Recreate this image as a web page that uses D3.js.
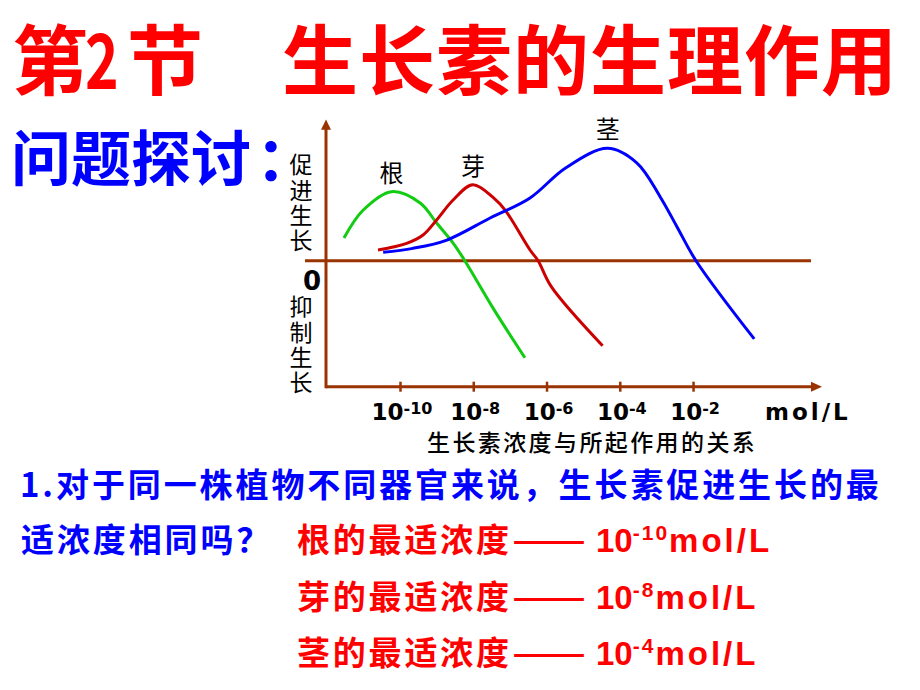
<!DOCTYPE html>
<html>
<head>
<meta charset="utf-8">
<script src="https://cdn.jsdelivr.net/npm/d3@7"></script>
<style>
  body { margin: 0; background: #fff; }
</style>
</head>
<body>
<script>
// curve data: x = log10 of auxin concentration (mol/L), y = effect (+ promote, - inhibit)
const organs = ["根", "芽", "茎"];
const rootExp = [-11.53, -11.01, -10.23, -9.45, -9.00, -8.55, -8.23, -7.43, -6.59];
const rootVal = [0.18, 0.40, 0.548, 0.458, 0.299, 0.14, 0.0, -0.39, -0.77];
const budExp = [-10.60, -9.82, -9.37, -9.00, -8.55, -8.01, -7.43, -7.13, -6.45, -6.23, -5.87, -4.47];
const budVal = [0.085, 0.138, 0.204, 0.323, 0.482, 0.603, 0.495, 0.402, 0.085, 0.0, -0.206, -0.675];
const stemExp = [-10.46, -9.65, -8.72, -7.54, -6.45, -5.48, -4.33, -3.53, -2.90, -2.44, -1.92, -0.33];
const stemVal = [0.067, 0.098, 0.164, 0.339, 0.498, 0.736, 0.892, 0.775, 0.508, 0.27, 0.0, -0.621];
const tickExp = [-10, -8, -6, -4, -2];
const optimumExp = [-10, -8, -4];

const colors = ["#11cc11", "#cc0000", "#0000ff"];
const brown = "#993300";
const cjk = "'Noto Sans CJK SC', sans-serif";
const latin = "'DejaVu Sans', sans-serif";
const arial = "'Liberation Sans', 'Noto Sans CJK SC', sans-serif";

const width = 920, height = 690;
const svg = d3.select("body").append("svg")
  .attr("width", width)
  .attr("height", height);

// ---- title ----
const title = svg.append("g").attr("fill", "#ff0000").style("font-family", cjk).style("font-weight", "bold").style("font-size", "76px");
title.append("text").attr("x", 12).attr("y", 89).text("第");
title.append("text").attr("transform", "translate(85,89) scale(0.75,1)").text("2");
title.append("text").attr("x", 127).attr("y", 89).text("节");
title.append("text").attr("x", 282).attr("y", 89).style("letter-spacing", "1px").text("生长素的生理作用");

// ---- question heading ----
const q = svg.append("text")
  .attr("x", 11).attr("y", 181)
  .attr("fill", "#0000ff")
  .style("font-family", cjk).style("font-weight", "bold").style("font-size", "60px");
q.append("tspan").text("问题探讨");
q.append("tspan").attr("x", 256).text("：");

// ---- chart ----
const x = d3.scaleLog()
  .domain([Math.pow(10, -12.02), Math.pow(10, 1.52)])
  .range([326, 822]);
const y = d3.scaleLinear()
  .domain([-1, 1])
  .range([386.7, 134.7]);

// y axis with arrow
svg.append("line")
  .attr("x1", x.range()[0]).attr("x2", x.range()[0])
  .attr("y1", y(-1)).attr("y2", y(1.04))
  .attr("stroke", brown).attr("stroke-width", 3).attr("stroke-linecap", "square");
svg.append("path")
  .attr("d", `M${x.range()[0]},${y(1.12)}L${x.range()[0] - 5},${y(1.04)}L${x.range()[0] + 5},${y(1.04)}Z`)
  .attr("fill", brown);

// zero line
svg.append("line")
  .attr("x1", x.range()[0] - 21).attr("x2", 811)
  .attr("y1", y(0)).attr("y2", y(0))
  .attr("stroke", brown).attr("stroke-width", 3);

// x axis
const xAxis = d3.axisBottom(x)
  .tickValues(tickExp.map(e => Math.pow(10, e)))
  .tickFormat("")
  .tickSizeOuter(0);
const gx = svg.append("g")
  .attr("transform", `translate(0,${y(-1)})`)
  .call(xAxis);
gx.select(".domain").attr("stroke", brown).attr("stroke-width", 3).attr("d", `M${x.range()[0]},0H${x.range()[1] - 8}`);
gx.selectAll(".tick line").attr("stroke", brown).attr("stroke-width", 2.5).attr("y1", -5).attr("y2", 5);
svg.append("path")
  .attr("d", `M${x.range()[1]},${y(-1)}L${x.range()[1] - 11},${y(-1) - 5}L${x.range()[1] - 11},${y(-1) + 5}Z`)
  .attr("fill", brown);

// tick labels 10^n
tickExp.forEach(e => {
  const t = svg.append("text")
    .attr("x", x(Math.pow(10, e)) + 2)
    .attr("y", 420)
    .attr("text-anchor", "middle")
    .style("font-family", latin).style("font-weight", "bold").style("font-size", "23px");
  t.append("tspan").text("10");
  t.append("tspan").attr("dy", -6).style("font-size", "16px").text("-" + Math.abs(e));
});
svg.append("text")
  .attr("x", 765).attr("y", 420)
  .style("font-family", latin).style("font-weight", "bold").style("font-size", "23px")
  .style("letter-spacing", "3px")
  .text("mol/L");

svg.append("text")
  .attr("x", 427).attr("y", 451)
  .style("font-family", cjk).style("font-weight", 500).style("font-size", "23px")
  .style("letter-spacing", "2.4px")
  .text("生长素浓度与所起作用的关系");

// y labels, written vertically
[["促进生长", 153], ["抑制生长", 295]].forEach(([s, top]) => {
  svg.append("text")
    .attr("x", 301).attr("y", top)
    .attr("writing-mode", "tb")
    .style("font-family", cjk).style("font-size", "23px")
    .style("letter-spacing", "2.4px")
    .text(s);
});
svg.append("text")
  .attr("x", 312).attr("y", 290)
  .attr("text-anchor", "middle")
  .style("font-family", latin).style("font-weight", "bold").style("font-size", "26px")
  .text("0");

// curves
const series = [
  { name: organs[0], exp: rootExp, val: rootVal },
  { name: organs[1], exp: budExp, val: budVal },
  { name: organs[2], exp: stemExp, val: stemVal }
];
const line = d3.line()
  .x(d => x(Math.pow(10, d[0])))
  .y(d => y(d[1]))
  .curve(d3.curveCatmullRom.alpha(0.5));

series.forEach((s, i) => {
  const pts = s.exp.map((e, j) => [e, s.val[j]]);
  svg.append("path")
    .attr("d", line(pts))
    .attr("fill", "none")
    .attr("stroke", colors[i])
    .attr("stroke-width", 3);
  const peak = pts[d3.maxIndex(pts, p => p[1])];
  svg.append("text")
    .attr("x", x(Math.pow(10, peak[0])))
    .attr("y", y(peak[1]) - 10)
    .attr("text-anchor", "middle")
    .style("font-family", cjk).style("font-size", "24px")
    .text(s.name);
});

// ---- question text ----
const blue = svg.append("g").attr("fill", "#0000ff")
  .style("font-family", cjk).style("font-weight", "bold").style("font-size", "33px")
  .style("letter-spacing", "2.9px");
blue.append("text").attr("x", 20).attr("y", 497).text("1.对于同一株植物不同器官来说，生长素促进生长的最");
blue.append("text").attr("x", 21).attr("y", 552).text("适浓度相同吗？");

optimumExp.forEach((e, i) => {
  const t = svg.append("text")
    .attr("x", 297).attr("y", 552 + i * 56.5)
    .attr("fill", "#ff0000")
    .style("font-family", cjk).style("font-weight", "bold").style("font-size", "33px");
  t.append("tspan").style("letter-spacing", "2.8px").text(organs[i] + "的最适浓度");
  t.append("tspan").attr("x", 512).attr("textLength", 74).attr("lengthAdjust", "spacingAndGlyphs").text("——");
  t.append("tspan").attr("x", 596).style("font-family", arial).text("10");
  t.append("tspan").attr("dy", -12).style("font-family", arial).style("font-size", "21px")
    .style("letter-spacing", "2px").text("-" + Math.abs(e));
  t.append("tspan").attr("dy", 12).style("font-family", arial).style("letter-spacing", "3px").text("mol/L");
});
</script>
</body>
</html>
